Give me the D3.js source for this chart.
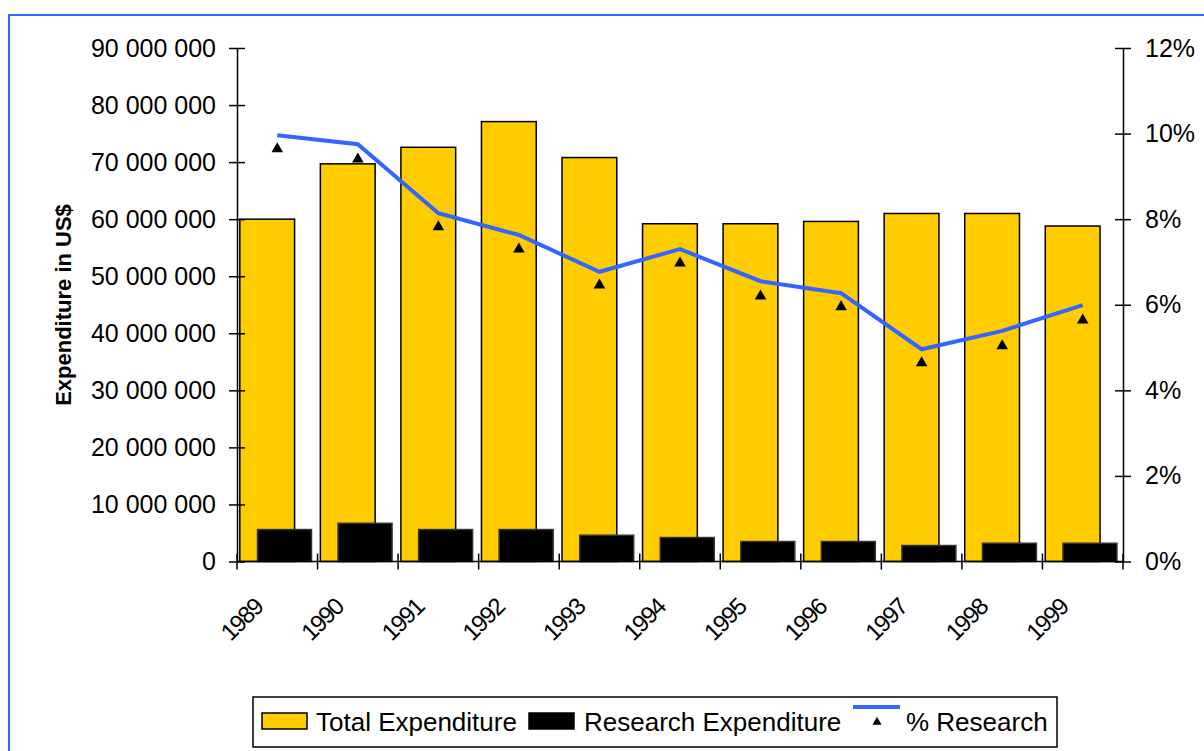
<!DOCTYPE html>
<html lang="en">
<head>
<meta charset="utf-8">
<title>Expenditure</title>
<script src="https://cdnjs.cloudflare.com/ajax/libs/d3/7.8.5/d3.min.js"></script>
<style>
	body { margin: 0; background: #fff; }
	text { font-family: "Liberation Sans", Arial, sans-serif; fill: #000; }
	.axis path, .axis line { stroke: #000; stroke-width: 1.5px; }
</style>
</head>
<body>
<div id="chart"></div>
<script>
// chart values
var years = ["1989","1990","1991","1992","1993","1994","1995","1996","1997","1998","1999"];
var totalExp = [60000000, 69700000, 72600000, 77100000, 70800000, 59200000, 59200000, 59600000, 61000000, 61000000, 58800000];
var researchExp = [5600000, 6700000, 5600000, 5600000, 4600000, 4200000, 3500000, 3500000, 2800000, 3200000, 3200000];
var pctLine = [0.0996, 0.0975, 0.0814, 0.0763, 0.0677, 0.0730, 0.0655, 0.0627, 0.0496, 0.0539, 0.0599];
var pctMarker = [0.0964, 0.0940, 0.0782, 0.0730, 0.0646, 0.0697, 0.0620, 0.0595, 0.0464, 0.0504, 0.0564];
var leftTicks = [0, 10000000, 20000000, 30000000, 40000000, 50000000, 60000000, 70000000, 80000000, 90000000];
var rightTicks = [0, 0.02, 0.04, 0.06, 0.08, 0.10, 0.12];
var legendLabels = ["Total Expenditure", "Research Expenditure", "% Research"];

var width = 1204, height = 751;
var plotLeft = 237, plotRight = 1123, plotTop = 48, plotBottom = 561.5;

var svg = d3.select("#chart").append("svg")
	.attr("width", width)
	.attr("height", height);

// outer frame
svg.append("rect")
	.attr("x", 9).attr("y", 15)
	.attr("width", 1210).attr("height", 760)
	.attr("fill", "none")
	.attr("stroke", "#3366ff")
	.attr("stroke-width", 2);

var x = d3.scaleBand().domain(years).range([plotLeft, plotRight]);
var yL = d3.scaleLinear().domain([0, 90000000]).range([plotBottom, plotTop]);
var yR = d3.scaleLinear().domain([0, 0.12]).range([plotBottom, plotTop]);
var bw = x.bandwidth();

// total bars
svg.selectAll(".total")
	.data(years)
	.enter().append("rect")
	.attr("class", "total")
	.attr("x", function(d) { return x(d) + bw * 0.035; })
	.attr("y", function(d, i) { return yL(totalExp[i]); })
	.attr("width", bw * 0.68)
	.attr("height", function(d, i) { return plotBottom - yL(totalExp[i]); })
	.attr("fill", "#ffcc00")
	.attr("stroke", "#000")
	.attr("stroke-width", 1.5);

// research bars
svg.selectAll(".research")
	.data(years)
	.enter().append("rect")
	.attr("class", "research")
	.attr("x", function(d) { return x(d) + bw * 0.255; })
	.attr("y", function(d, i) { return yL(researchExp[i]); })
	.attr("width", bw * 0.67)
	.attr("height", function(d, i) { return plotBottom - yL(researchExp[i]); })
	.attr("fill", "#000")
	.attr("stroke", "#333")
	.attr("stroke-width", 1.5);

// left axis
var gL = svg.append("g")
	.attr("class", "axis")
	.attr("transform", "translate(" + plotLeft + ",0)")
	.call(d3.axisLeft(yL).tickValues(leftTicks).tickSize(8).tickSizeOuter(0)
		.tickFormat(function(v) { return d3.format(",")(v).replace(/,/g, " "); }));
gL.selectAll(".tick line").attr("x1", 8);
gL.selectAll(".tick text").attr("x", -21).style("font-size", "25px").style("font-family", "'Liberation Sans', Arial, sans-serif");

// right axis
var gR = svg.append("g")
	.attr("class", "axis")
	.attr("transform", "translate(" + plotRight + ",0)")
	.call(d3.axisRight(yR).tickValues(rightTicks).tickSize(8).tickSizeOuter(0)
		.tickFormat(d3.format(".0%")));
gR.selectAll(".tick line").attr("x1", -8);
gR.selectAll(".tick text").attr("x", 22).style("font-size", "25px").style("font-family", "'Liberation Sans', Arial, sans-serif");

// bottom axis with boundary ticks
var gB = svg.append("g").attr("class", "axis");
gB.append("line")
	.attr("x1", plotLeft).attr("x2", plotRight)
	.attr("y1", plotBottom).attr("y2", plotBottom);
gB.selectAll(".bt")
	.data(years.concat(["end"]))
	.enter().append("line")
	.attr("x1", function(d, i) { return plotLeft + i * bw; })
	.attr("x2", function(d, i) { return plotLeft + i * bw; })
	.attr("y1", plotBottom - 8).attr("y2", plotBottom + 8);
gB.selectAll(".yl")
	.data(years)
	.enter().append("text")
	.attr("text-anchor", "end")
	.attr("transform", function(d) { return "translate(" + (x(d) + bw / 2 - 13) + "," + (plotBottom + 47) + ") rotate(-45)"; })
	.style("font-size", "24px")
	.style("letter-spacing", "-1.5px")
	.text(function(d) { return d; });

// % research line
var line = d3.line()
	.x(function(d, i) { return x(years[i]) + bw / 2; })
	.y(function(d) { return yR(d); });
svg.append("path")
	.datum(pctLine)
	.attr("d", line)
	.attr("fill", "none")
	.attr("stroke", "#3366ff")
	.attr("stroke-width", 4);

svg.selectAll(".mk")
	.data(pctMarker)
	.enter().append("path")
	.attr("d", d3.symbol().type(d3.symbolTriangle).size(58))
	.attr("transform", function(d, i) { return "translate(" + (x(years[i]) + bw / 2) + "," + yR(d) + ")"; })
	.attr("fill", "#000");

// axis title
svg.append("text")
	.attr("transform", "translate(71,305) rotate(-90)")
	.attr("text-anchor", "middle")
	.style("font-size", "22px")
	.style("font-weight", "bold")
	.text("Expenditure in US$");

// legend
var lg = svg.append("g");
lg.append("rect")
	.attr("x", 253).attr("y", 697)
	.attr("width", 804).attr("height", 50)
	.attr("fill", "#fff")
	.attr("stroke", "#000")
	.attr("stroke-width", 1.5);
lg.append("rect").attr("x", 262).attr("y", 713).attr("width", 45).attr("height", 16)
	.attr("fill", "#ffcc00").attr("stroke", "#000").attr("stroke-width", 1.5);
lg.append("text").attr("x", 316).attr("y", 731).style("font-size", "26px").text(legendLabels[0]);
lg.append("rect").attr("x", 529).attr("y", 713).attr("width", 45).attr("height", 16)
	.attr("fill", "#000").attr("stroke", "#000").attr("stroke-width", 1.5);
lg.append("text").attr("x", 584).attr("y", 731).style("font-size", "26px").text(legendLabels[1]);
lg.append("line").attr("x1", 853).attr("x2", 900).attr("y1", 707).attr("y2", 707)
	.attr("stroke", "#3366ff").attr("stroke-width", 4);
lg.append("path")
	.attr("d", d3.symbol().type(d3.symbolTriangle).size(36))
	.attr("transform", "translate(877,722)")
	.attr("fill", "#000");
lg.append("text").attr("x", 906).attr("y", 731).style("font-size", "26px").text(legendLabels[2]);
</script>
</body>
</html>
